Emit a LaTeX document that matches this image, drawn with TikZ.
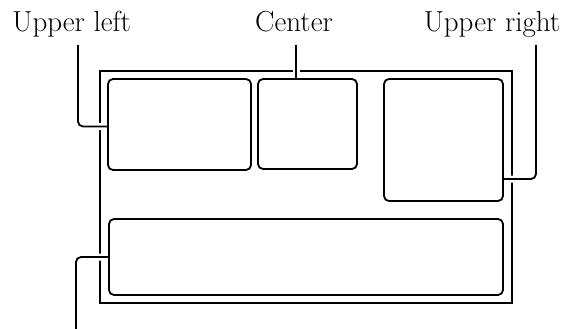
\documentclass[tikz,border=0pt]{standalone}
\usepackage{fontspec}
\usetikzlibrary{calc}

\begin{document}
\begin{tikzpicture}[
x=1pt,y=-1pt,
line width=1.8pt,
lbl/.style={
anchor=base,
inner sep=0pt,
font=\fontsize{29}{33}\selectfont
},
area/.style={
draw,
rounded corners=5pt,
inner sep=0pt
},
leader/.style={
rounded corners=5pt,
preaction={draw=white,line width=7pt,shorten >=2pt,shorten <=2pt}
}
]

\useasboundingbox (0,0) rectangle (573,329);

\node[lbl] (UL) at (71.7,32) {Upper left};
\node[lbl] (C) at (294,32) {Center};
\node[lbl] (UR) at (492,32) {Upper right};

\draw (100,71) rectangle (512,303);

\node[area,minimum width=143pt,minimum height=91pt] (ulbox) at (179.5,124.5) {};
\node[area,minimum width=99pt,minimum height=90pt] (cbox) at (307.5,124) {};
\node[area,minimum width=119pt,minimum height=122pt] (urbox) at (443.5,140) {};
\node[area,minimum width=394pt,minimum height=76pt] (lbox) at (306,257) {};

\coordinate (ULtop) at (78,45);
\coordinate (Ctop) at (296,45);
\coordinate (URtop) at (536,45);
\coordinate (Lend) at (76,329);

\draw[leader] (ULtop) |- ($(ulbox.west)+(0,2)$);
\draw[leader] (Ctop) -- (Ctop |- cbox.north);
\draw[leader] (URtop) |- ($(urbox.east)+(0,39)$);
\draw[leader] (Lend) |- (lbox.west);

\end{tikzpicture}
\end{document}
